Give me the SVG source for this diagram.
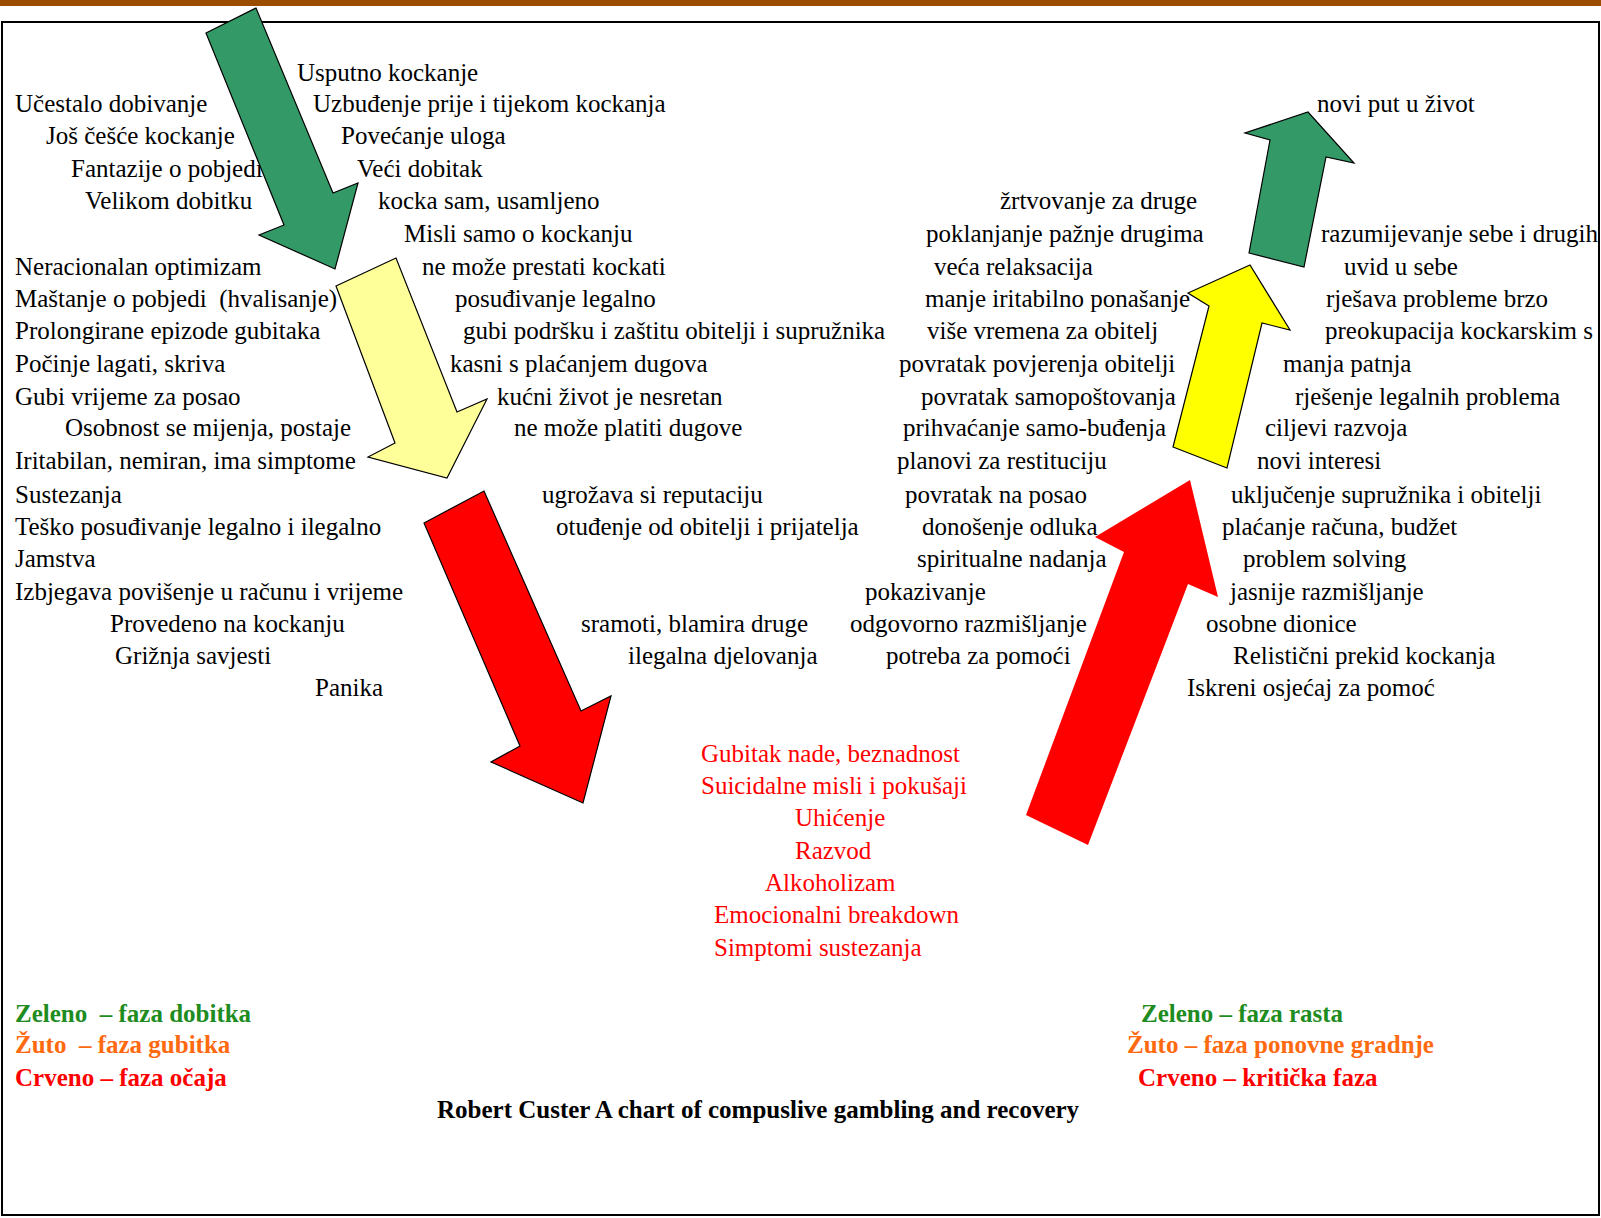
<svg xmlns="http://www.w3.org/2000/svg" width="1601" height="1218" viewBox="0 0 1601 1218">
<style>
text{font-family:"Liberation Serif","Times New Roman",serif;font-size:25px;fill:#000;white-space:pre}
.r{fill:#ff0000}
.b{font-weight:bold}
.g{fill:#1e8c1e}
.o{fill:#ff6a10}
.arw{stroke:#000;stroke-width:1.2;stroke-linejoin:miter}
</style>
<rect x="0" y="0" width="1601" height="1218" fill="#fff"/>
<rect x="0" y="0" width="1601" height="6" fill="#9a4c00"/>
<rect x="2" y="22" width="1597" height="1193" fill="none" stroke="#000" stroke-width="2"/>

<g id="left-texts">
<text x="297" y="81">Usputno kockanje</text>
<text x="15" y="112">Učestalo dobivanje</text>
<text x="313" y="112">Uzbuđenje prije i tijekom kockanja</text>
<text x="46" y="144">Još češće kockanje</text>
<text x="341" y="144">Povećanje uloga</text>
<text x="71" y="177">Fantazije o pobjedi</text>
<text x="357" y="177">Veći dobitak</text>
<text x="85" y="209">Velikom dobitku</text>
<text x="378" y="209">kocka sam, usamljeno</text>
<text x="404" y="242">Misli samo o kockanju</text>
<text x="15" y="275">Neracionalan optimizam</text>
<text x="422" y="275">ne može prestati kockati</text>
<text x="15" y="307">Maštanje o pobjedi  (hvalisanje)</text>
<text x="455" y="307">posuđivanje legalno</text>
<text x="15" y="339">Prolongirane epizode gubitaka</text>
<text x="463" y="339">gubi podršku i zaštitu obitelji i supružnika</text>
<text x="15" y="372">Počinje lagati, skriva</text>
<text x="450" y="372">kasni s plaćanjem dugova</text>
<text x="15" y="405">Gubi vrijeme za posao</text>
<text x="497" y="405">kućni život je nesretan</text>
<text x="65" y="436">Osobnost se mijenja, postaje</text>
<text x="514" y="436">ne može platiti dugove</text>
<text x="15" y="469">Iritabilan, nemiran, ima simptome</text>
<text x="15" y="503">Sustezanja</text>
<text x="542" y="503">ugrožava si reputaciju</text>
<text x="15" y="535">Teško posuđivanje legalno i ilegalno</text>
<text x="556" y="535">otuđenje od obitelji i prijatelja</text>
<text x="15" y="567">Jamstva</text>
<text x="15" y="600">Izbjegava povišenje u računu i vrijeme</text>
<text x="110" y="632">Provedeno na kockanju</text>
<text x="581" y="632">sramoti, blamira druge</text>
<text x="115" y="664">Grižnja savjesti</text>
<text x="628" y="664">ilegalna djelovanja</text>
<text x="315" y="696">Panika</text>
</g>

<g id="right-texts">
<text x="1317" y="112">novi put u život</text>
<text x="1000" y="209">žrtvovanje za druge</text>
<text x="926" y="242">poklanjanje pažnje drugima</text>
<text x="1321" y="242">razumijevanje sebe i drugih</text>
<text x="934" y="275">veća relaksacija</text>
<text x="1344" y="275">uvid u sebe</text>
<text x="925" y="307">manje iritabilno ponašanje</text>
<text x="1326" y="307">rješava probleme brzo</text>
<text x="927" y="339">više vremena za obitelj</text>
<text x="1325" y="339">preokupacija kockarskim s</text>
<text x="899" y="372">povratak povjerenja obitelji</text>
<text x="1283" y="372">manja patnja</text>
<text x="921" y="405">povratak samopoštovanja</text>
<text x="1295" y="405">rješenje legalnih problema</text>
<text x="903" y="436">prihvaćanje samo-buđenja</text>
<text x="1265" y="436">ciljevi razvoja</text>
<text x="897" y="469">planovi za restituciju</text>
<text x="1257" y="469">novi interesi</text>
<text x="905" y="503">povratak na posao</text>
<text x="1231" y="503">uključenje supružnika i obitelji</text>
<text x="922" y="535">donošenje odluka</text>
<text x="1222" y="535">plaćanje računa, budžet</text>
<text x="917" y="567">spiritualne nadanja</text>
<text x="1243" y="567">problem solving</text>
<text x="865" y="600">pokazivanje</text>
<text x="1230" y="600">jasnije razmišljanje</text>
<text x="850" y="632">odgovorno razmišljanje</text>
<text x="1206" y="632">osobne dionice</text>
<text x="886" y="664">potreba za pomoći</text>
<text x="1233" y="664">Relistični prekid kockanja</text>
<text x="1187" y="696">Iskreni osjećaj za pomoć</text>
</g>

<g id="bottom-texts">
<text class="r" x="701" y="762">Gubitak nade, beznadnost</text>
<text class="r" x="701" y="794">Suicidalne misli i pokušaji</text>
<text class="r" x="795" y="826">Uhićenje</text>
<text class="r" x="795" y="859">Razvod</text>
<text class="r" x="765" y="891">Alkoholizam</text>
<text class="r" x="714" y="923">Emocionalni breakdown</text>
<text class="r" x="714" y="956">Simptomi sustezanja</text>
</g>

<g id="legend">
<text class="b g" x="15" y="1022">Zeleno  – faza dobitka</text>
<text class="b o" x="15" y="1053">Žuto  – faza gubitka</text>
<text class="b r" x="15" y="1086">Crveno – faza očaja</text>
<text class="b g" x="1141" y="1022">Zeleno – faza rasta</text>
<text class="b o" x="1127" y="1053">Žuto – faza ponovne gradnje</text>
<text class="b r" x="1138" y="1086">Crveno – kritička faza</text>
<text class="b" x="437" y="1118">Robert Custer A chart of compuslive gambling and recovery</text>
</g>

<g id="arrows">
<polygon id="arrow-green-down" class="arw" fill="#339966" points="206,33 256,8 333,193 358,183 335,269 259,235 284,225"/>
<polygon id="arrow-yellow-down" class="arw" fill="#ffff99" points="336,286 396,258 457,412 487,399 447,478 368,457 395,443"/>
<polygon id="arrow-red-down" class="arw" fill="#ff0000" points="424,523 484,491 581,711 611,696 583,803 491,762 520,746"/>
<polygon id="arrow-red-up" fill="#ff0000" points="1026,815 1088,845 1188,584 1218,597 1190,480 1095,537 1124,552"/>
<polygon id="arrow-yellow-up" class="arw" fill="#ffff00" points="1173,447 1227,468 1262,323 1290,330 1250,265 1188,293 1209,306"/>
<polygon id="arrow-green-up" class="arw" fill="#339966" points="1249,253 1304,267 1326,157 1354,163 1308,112 1245,133 1270,140"/>
</g>
</svg>
